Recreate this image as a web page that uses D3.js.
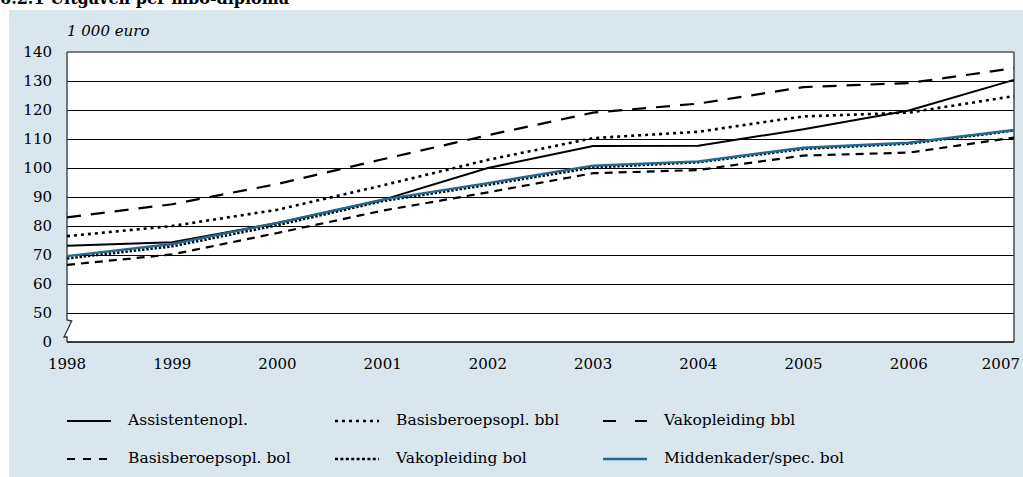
<!DOCTYPE html>
<html><head><meta charset="utf-8">
<script src="https://cdn.jsdelivr.net/npm/d3@7/dist/d3.min.js"></script>
<style>html,body{margin:0;padding:0;background:#fff;}svg{display:block;}</style>
</head><body><svg id="c" width="1023" height="477"></svg>
<script>
const years = [1998,1999,2000,2001,2002,2003,2004,2005,2006,2007];
const assistentenopl = [73.2,74.4,81,89,100,107.6,107.7,113.4,119.8,130.4];
const basisBbl = [76.5,80,85.6,94,102.8,110.3,112.5,117.8,119.1,124.8];
const vakBbl = [83,87.5,94.5,103,111.3,119.1,122.2,127.9,129.3,134.4];
const basisBol = [66.6,70.2,77.6,85.3,91.6,98.2,99.3,104.3,105.3,110.5];
const vakBol = [68.8,73,80.3,88.6,94.2,100.2,102,106.6,108.4,112.9];
const middenkaderBol = [69.6,73.8,81.1,89.1,94.8,100.8,102.3,107,108.7,113.1];
const yTicks = [0,50,60,70,80,90,100,110,120,130,140];
const title = "6.2.1 Uitgaven per mbo-diploma";
const unitLabel = "1 000 euro";

const series = [
  {name:"Assistentenopl.", values:assistentenopl, color:"#000", dash:null, ldash:null, w:2},
  {name:"Basisberoepsopl. bbl", values:basisBbl, color:"#000", dash:"3,4", ldash:"3,4", w:2.6},
  {name:"Vakopleiding bbl", values:vakBbl, color:"#000", dash:"14,10", ldash:"13,19", w:2.2},
  {name:"Basisberoepsopl. bol", values:basisBol, color:"#000", dash:"8,6", ldash:"8,8", w:2.2},
  {name:"Vakopleiding bol", values:vakBol, color:"#000", dash:"2.4,1.8", ldash:"3,2.4", w:2.6},
  {name:"Middenkader/spec. bol", values:middenkaderBol, color:"#1f6a94", dash:null, ldash:null, w:2.4}
];

const svg = d3.select("#c");
const FONT = "'DejaVu Serif', 'Liberation Serif', serif";
const L = 67, R = 1014, T = 52, B = 342;

svg.append("rect").attr("x",9).attr("y",10).attr("width",1014).attr("height",467).attr("fill","#d9e6ee");
svg.append("text").attr("x",0).attr("y",4).attr("font-family",FONT).attr("font-weight","bold")
  .attr("font-size",16).attr("fill","#000").text(title);

const x = d3.scaleLinear().domain([1998,2007]).range([L,R]);
const y = d3.scaleLinear().domain([0,50,140]).range([B,B-29,T]);

// plot area with axis break on the left
svg.append("path")
  .attr("d",`M${L},${T}H${R}V${B}H${L}V337H64L71.7,321H${L}Z`)
  .attr("fill","#fff");

// gridlines
const gridVals = yTicks.filter(v => v>=50 && v<140);
svg.append("g").selectAll("line").data(gridVals).join("line")
  .attr("x1",L).attr("x2",R)
  .attr("y1",d=>Math.round(y(d))+0.5).attr("y2",d=>Math.round(y(d))+0.5)
  .attr("stroke","#000").attr("stroke-width",1.1);

// borders
svg.append("line").attr("x1",L).attr("x2",R).attr("y1",y(140)).attr("y2",y(140)).attr("stroke","#555").attr("stroke-width",1.6);
svg.append("line").attr("x1",R).attr("x2",R).attr("y1",y(140)).attr("y2",B).attr("stroke","#555").attr("stroke-width",1.6);
svg.append("line").attr("x1",L).attr("x2",R).attr("y1",B).attr("y2",B).attr("stroke","#000").attr("stroke-width",1.4);
svg.append("path").attr("d",`M${L},${T}V320L71.7,321L64,337H${L}V${B}`)
  .attr("fill","none").attr("stroke","#333").attr("stroke-width",1.3);

// y tick labels
svg.append("g").selectAll("text").data(yTicks).join("text")
  .attr("x",52).attr("y",d=>y(d)).attr("dy","0.36em").attr("text-anchor","end")
  .attr("font-family",FONT).attr("font-size",15).attr("fill","#000").text(d=>d);

svg.append("text").attr("x",67).attr("y",36).attr("font-family",FONT).attr("font-style","italic")
  .attr("font-size",15).attr("fill","#000").text(unitLabel);

// x tick labels
svg.append("g").selectAll("text").data(years).join("text")
  .attr("x",(d,i)=> i===years.length-1 ? 1020 : x(d)).attr("y",369)
  .attr("text-anchor",(d,i)=> i===years.length-1 ? "end" : "middle")
  .attr("font-family",FONT).attr("font-size",15).attr("fill","#000").text(d=>d);

// lines
const line = d3.line().x((d,i)=>x(years[i])).y(d=>y(d));
svg.append("g").selectAll("path").data(series).join("path")
  .attr("d",d=>line(d.values)).attr("fill","none")
  .attr("stroke",d=>d.color).attr("stroke-width",d=>d.w)
  .attr("stroke-dasharray",d=>d.dash).attr("stroke-linejoin","round");

// legend
const cols = [67,335,603], rows = [421,459];
const lg = svg.append("g").selectAll("g").data(series).join("g")
  .attr("transform",(d,i)=>`translate(${cols[i%3]},${rows[Math.floor(i/3)]})`);
lg.append("line").attr("x1",0).attr("x2",44).attr("y1",0).attr("y2",0)
  .attr("stroke",d=>d.color).attr("stroke-width",d=>d.w).attr("stroke-dasharray",d=>d.ldash);
lg.append("text").attr("x",61).attr("y",4).attr("font-family",FONT).attr("font-size",15.5)
  .attr("fill","#000").text(d=>d.name);
</script></body></html>
